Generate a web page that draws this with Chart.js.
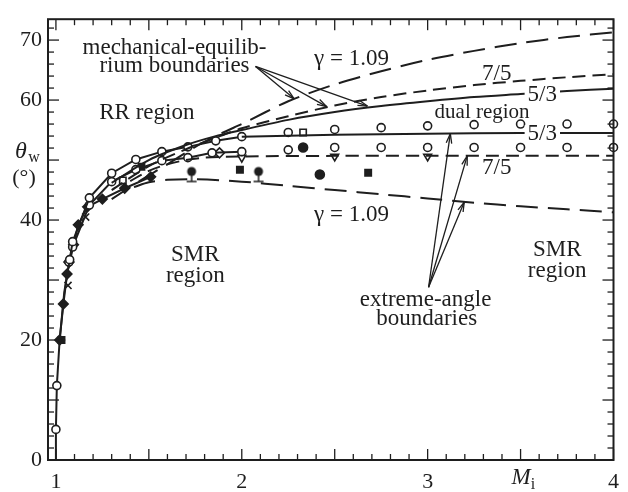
<!DOCTYPE html>
<html>
<head>
<meta charset="utf-8">
<script src="https://cdn.jsdelivr.net/npm/chart.js@4.4.0/dist/chart.umd.min.js"></script>
<style>
  html, body { margin: 0; padding: 0; background: #fff; }
  #wrap { width: 628px; height: 492px; }
</style>
</head>
<body>
<div id="wrap"><canvas id="myChart" width="628" height="492"></canvas></div>
<script>
// Valores: M_i (eje x) contra theta_w en grados (eje y)
const xTickLabels = [1, 2, 3, 4];
const yTickLabels = [0, 20, 40, 60, 70];

// fronteras de equilibrio mecanico
const mech109M = [1.3, 1.45, 1.6, 1.75, 1.9, 2.0, 2.25, 2.5, 2.75, 3.0, 3.25, 3.5, 3.75, 4.0];
const mech109T = [43.5, 46.5, 49.3, 52.2, 54.6, 56.0, 59.8, 62.6, 64.8, 66.7, 68.2, 69.5, 70.5, 71.3];
const mech75M = [1.3, 1.5, 1.7, 1.85, 2.0, 2.25, 2.5, 2.75, 3.0, 3.25, 3.5, 3.75, 4.0];
const mech75T = [45.0, 49.0, 51.8, 53.6, 55.3, 57.3, 59.1, 60.5, 61.6, 62.5, 63.2, 63.8, 64.3];
const mech53M = [1.3, 1.5, 1.7, 1.85, 2.0, 2.25, 2.5, 2.75, 3.0, 3.25, 3.5, 3.75, 4.0];
const mech53T = [46.2, 50.0, 52.5, 53.9, 55.0, 56.7, 58.0, 59.0, 59.8, 60.5, 61.0, 61.5, 61.9];

// fronteras de angulo extremo
const ext109M = [1.42, 1.5, 1.6, 1.75, 2.0, 2.25, 2.5, 2.75, 3.0, 3.25, 3.5, 3.75, 4.0];
const ext109T = [45.5, 46.3, 46.7, 46.8, 46.4, 45.7, 45.0, 44.3, 43.6, 42.9, 42.3, 41.8, 41.3];
const ext75M = [1.4, 1.5, 1.6, 1.7, 1.8, 2.0, 2.5, 3.0, 3.5, 4.0];
const ext75T = [46.5, 48.2, 49.3, 50.0, 50.4, 50.6, 50.7, 50.7, 50.7, 50.7];
const ext53M = [2.0, 2.5, 3.0, 3.5, 4.0];
const ext53T = [53.9, 54.2, 54.4, 54.5, 54.5];

// datos experimentales unidos con linea
const dataUpperM = [1.0, 1.0, 1.005, 1.02, 1.045, 1.074, 1.09, 1.18, 1.3, 1.43, 1.57, 1.71, 1.86, 2.0];
const dataUpperT = [0, 5.1, 12.4, 20, 28, 33.4, 36.4, 43.7, 47.8, 50.1, 51.4, 52.2, 53.2, 53.9];
const dataLowerM = [1.07, 1.09, 1.18, 1.3, 1.43, 1.57, 1.71, 1.84, 2.0];
const dataLowerT = [33.0, 35.5, 42.5, 46.4, 48.4, 49.9, 50.4, 51.2, 51.4];
const dataFilledM = [1.02, 1.04, 1.06, 1.095, 1.12, 1.17, 1.25, 1.37, 1.51];
const dataFilledT = [20, 26, 31, 35.9, 39.2, 42.2, 43.5, 45.3, 47.2];

// puntos sueltos
const openUpM = [2.25, 2.5, 2.75, 3.0, 3.25, 3.5, 3.75, 4.0];
const openUpT = [54.6, 55.1, 55.4, 55.7, 55.9, 56.0, 56.0, 56.0];
const openLowM = [2.25, 2.5, 2.75, 3.0, 3.25, 3.5, 3.75, 4.0];
const openLowT = [51.7, 52.1, 52.1, 52.1, 52.1, 52.1, 52.1, 52.1];
const openSquareM = [2.33, 1.36];
const openSquareT = [54.6, 46.6];
const filledCircleM = [2.33, 2.42];
const filledCircleT = [52.1, 47.6];
const triDownM = [2.0, 2.5, 3.0];
const triDownT = [50.4, 50.6, 50.6];
const diamondM = [1.88, 1.07];
const diamondT = [51.2, 33.0];
const pinM = [1.73, 2.09];
const pinT = [48.1, 48.1];
const filledSquareM = [1.99, 2.68, 1.03, 1.46];
const filledSquareT = [48.4, 47.9, 20.0, 48.9];
const crossM = [1.065, 1.16];
const crossT = [29.1, 40.5];

const ink = '#1e1e1e';
const serif = '"Liberation Serif", "Times New Roman", serif';

function pts(xs, ys) {
    return xs.map(function (x, i) { return { x: x, y: ys[i] }; });
}

// marcador tipo alfiler (circulo relleno con pie)
const pin = document.createElement('canvas');
pin.width = 14; pin.height = 30;
(function () {
    const c = pin.getContext('2d');
    c.fillStyle = ink; c.strokeStyle = ink; c.lineWidth = 1.5;
    c.beginPath(); c.arc(7, 15, 4.5, 0, Math.PI * 2); c.fill();
    c.beginPath(); c.moveTo(7, 15); c.lineTo(7, 25); c.moveTo(2, 25); c.lineTo(12, 25); c.stroke();
})();

function curve(xs, ys, dash) {
    return {
        data: pts(xs, ys), showLine: true, borderColor: ink, borderWidth: 2,
        borderDash: dash, pointRadius: 0, tension: 0.3, fill: false
    };
}
function marks(xs, ys, style, filled, r) {
    return {
        data: pts(xs, ys), showLine: false, pointStyle: style, pointRadius: r || 4,
        pointBorderColor: ink, pointBorderWidth: 1.6,
        pointBackgroundColor: filled ? ink : '#fff', clip: false
    };
}

const dataUpper = curve(dataUpperM, dataUpperT, []);
dataUpper.pointRadius = dataUpperT.map(function (t) { return (t == 0 || t == 20 || t == 28) ? 0 : 4; });
dataUpper.pointBackgroundColor = '#fff';
dataUpper.pointBorderColor = ink;
dataUpper.pointBorderWidth = 1.6;
dataUpper.tension = 0;

const dataLower = curve(dataLowerM, dataLowerT, []);
dataLower.pointRadius = 4;
dataLower.pointBackgroundColor = '#fff';
dataLower.pointBorderColor = ink;
dataLower.pointBorderWidth = 1.6;
dataLower.tension = 0;

const dataFilled = curve(dataFilledM, dataFilledT, []);
dataFilled.pointRadius = 4.5;
dataFilled.pointStyle = 'rectRot';
dataFilled.pointBackgroundColor = ink;
dataFilled.pointBorderColor = ink;
dataFilled.tension = 0;

const triDown = marks(triDownM, triDownT, 'triangle', false, 4.5);
triDown.pointRotation = 180;

const longDash = [22, 10];
const midDash = [13, 7];

const labels = [
    { t: 'mechanical-equilib-', m: 1.638, v: 68.9, s: 23 },
    { t: 'rium boundaries', m: 1.638, v: 65.8, s: 23 },
    { t: 'RR region', m: 1.489, v: 58.0, s: 23 },
    { t: '\u03b3 = 1.09', m: 2.59, v: 67.1, s: 23 },
    { t: '7/5', m: 3.372, v: 64.6, s: 23 },
    { t: '5/3', m: 3.617, v: 61.0, s: 23, bg: true },
    { t: 'dual region', m: 3.293, v: 58.1, s: 21 },
    { t: '5/3', m: 3.617, v: 54.5, s: 23, bg: true },
    { t: '7/5', m: 3.372, v: 48.8, s: 23 },
    { t: '\u03b3 = 1.09', m: 2.59, v: 41.0, s: 23 },
    { t: 'SMR', m: 1.75, v: 34.4, s: 23 },
    { t: 'region', m: 1.75, v: 30.8, s: 23 },
    { t: 'SMR', m: 3.697, v: 35.1, s: 23 },
    { t: 'region', m: 3.697, v: 31.6, s: 23 },
    { t: 'extreme-angle', m: 2.989, v: 26.9, s: 23 },
    { t: 'boundaries', m: 2.995, v: 23.7, s: 23 }
];
const arrows = [
    { m0: 2.074, v0: 65.6, m1: 2.282, v1: 60.2 },
    { m0: 2.074, v0: 65.6, m1: 2.457, v1: 58.9 },
    { m0: 2.074, v0: 65.6, m1: 2.676, v1: 59.0 },
    { m0: 3.005, v0: 28.8, m1: 3.122, v1: 54.4 },
    { m0: 3.005, v0: 28.8, m1: 3.213, v1: 50.7 },
    { m0: 3.005, v0: 28.8, m1: 3.197, v1: 43.0 }
];

const decor = {
    id: 'decor',
    afterDraw(chart) {
        const ctx = chart.ctx;
        const xs = chart.scales.x, ys = chart.scales.y;
        const a = chart.chartArea;
        ctx.save();
        ctx.strokeStyle = ink;
        ctx.fillStyle = ink;
        function seg(x0, y0, x1, y1) {
            ctx.beginPath(); ctx.moveTo(x0, y0); ctx.lineTo(x1, y1); ctx.stroke();
        }
        // marcas de los ejes hacia adentro
        ctx.lineWidth = 1.3;
        for (let v = 0; v <= 72; v += 2) {
            const y = ys.getPixelForValue(v);
            const len = v % 10 == 0 ? 11 : 6;
            seg(a.left, y, a.left + len, y);
            seg(a.right, y, a.right - len, y);
        }
        for (let i = 10; i <= 40; i++) {
            const x = xs.getPixelForValue(i / 10);
            const len = i % 5 == 0 ? 11 : 6;
            seg(x, a.bottom, x, a.bottom - len);
            seg(x, a.top, x, a.top + len);
        }
        ctx.lineWidth = 2;
        ctx.strokeRect(a.left, a.top, a.right - a.left, a.bottom - a.top);

        // flechas
        ctx.lineWidth = 1.3;
        arrows.forEach(function (ar) {
            const x0 = xs.getPixelForValue(ar.m0), y0 = ys.getPixelForValue(ar.v0);
            const x1 = xs.getPixelForValue(ar.m1), y1 = ys.getPixelForValue(ar.v1);
            seg(x0, y0, x1, y1);
            const ang = Math.atan2(y1 - y0, x1 - x0);
            const h = 10, w = 0.28;
            seg(x1, y1, x1 - h * Math.cos(ang - w), y1 - h * Math.sin(ang - w));
            seg(x1, y1, x1 - h * Math.cos(ang + w), y1 - h * Math.sin(ang + w));
        });

        // textos
        ctx.textAlign = 'center';
        ctx.textBaseline = 'middle';
        labels.forEach(function (lb) {
            const x = xs.getPixelForValue(lb.m), y = ys.getPixelForValue(lb.v);
            ctx.font = lb.s + 'px ' + serif;
            if (lb.bg) {
                const w = ctx.measureText(lb.t).width + 6;
                ctx.fillStyle = '#fff';
                ctx.fillRect(x - w / 2, y - 8, w, 16);
                ctx.fillStyle = ink;
            }
            ctx.fillText(lb.t, x, y + 1);
        });

        // titulos de ejes
        ctx.font = 'italic 24px ' + serif;
        ctx.fillText('\u03b8', 21, 152);
        ctx.font = '16px ' + serif;
        ctx.fillText('w', 34, 158);
        ctx.font = '22px ' + serif;
        ctx.fillText('(\u00b0)', 24, 178);
        ctx.font = 'italic 23px ' + serif;
        ctx.fillText('M', 521, 478);
        ctx.font = '16px ' + serif;
        ctx.fillText('i', 533, 485);
        ctx.restore();
    }
};

const ctx = document.getElementById('myChart');
new Chart(ctx, {
    type: 'scatter',
    data: {
        datasets: [
            curve(mech109M, mech109T, longDash),
            curve(mech75M, mech75T, midDash),
            curve(mech53M, mech53T, []),
            curve(ext109M, ext109T, longDash),
            curve(ext75M, ext75T, midDash),
            curve(ext53M, ext53T, []),
            dataUpper,
            dataLower,
            dataFilled,
            marks(openUpM, openUpT, 'circle', false),
            marks(openLowM, openLowT, 'circle', false),
            marks(openSquareM, openSquareT, 'rect', false, 4.5),
            marks(filledCircleM, filledCircleT, 'circle', true, 4.5),
            triDown,
            marks(diamondM, diamondT, 'rectRot', false, 5),
            marks(pinM, pinT, pin, true),
            marks(filledSquareM, filledSquareT, 'rect', true, 4.5),
            marks(crossM, crossT, 'crossRot', false, 5)
        ]
    },
    options: {
        responsive: false,
        animation: false,
        layout: { padding: { top: 14, right: 8, left: 0, bottom: 0 } },
        plugins: { legend: { display: false }, tooltip: { enabled: false } },
        scales: {
            x: {
                type: 'linear', min: 0.9574, max: 4.0,
                grid: { display: false, drawTicks: false },
                border: { display: false },
                ticks: {
                    padding: 9, color: ink, maxRotation: 0, autoSkip: false,
                    font: { family: serif, size: 22 }
                },
                afterBuildTicks: function (s) {
                    s.ticks = xTickLabels.map(function (v) { return { value: v }; });
                },
                afterFit: function (s) { s.height = 32; }
            },
            y: {
                type: 'linear', min: 0, max: 73.48,
                grid: { display: false, drawTicks: false },
                border: { display: false },
                ticks: {
                    padding: 6, color: ink, autoSkip: false,
                    font: { family: serif, size: 22 }
                },
                afterBuildTicks: function (s) {
                    s.ticks = yTickLabels.map(function (v) { return { value: v }; });
                },
                afterFit: function (s) { s.width = 48; }
            }
        }
    },
    plugins: [decor]
});
</script>
</body>
</html>
